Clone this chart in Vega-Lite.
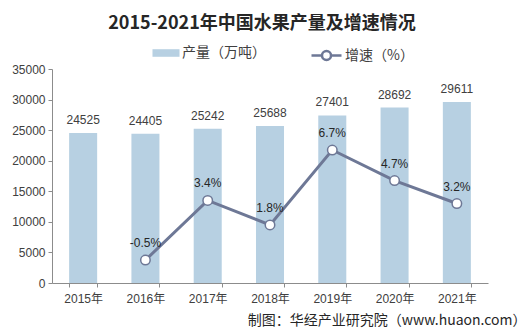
{
  "$schema": "https://vega.github.io/schema/vega-lite/v6.json",
  "width": 436,
  "height": 214,
  "autosize": {"type": "none"},
  "padding": {"left": 52, "top": 69, "right": 44, "bottom": 52},
  "background": "white",
  "title": {
    "text": "2015-2021年中国水果产量及增速情况",
    "font": "Noto Sans CJK SC",
    "fontSize": 18,
    "fontWeight": "bold",
    "color": "#262626",
    "anchor": "middle",
    "dx": -8,
    "offset": 6
  },
  "data": {
    "values": [
      {"year": "2015年", "output": 24525, "growth": null, "s1": "产量（万吨）", "s2": "增速（%）"},
      {"year": "2016年", "output": 24405, "growth": -0.5, "s1": "产量（万吨）", "s2": "增速（%）"},
      {"year": "2017年", "output": 25242, "growth": 3.4, "s1": "产量（万吨）", "s2": "增速（%）"},
      {"year": "2018年", "output": 25688, "growth": 1.8, "s1": "产量（万吨）", "s2": "增速（%）"},
      {"year": "2019年", "output": 27401, "growth": 6.7, "s1": "产量（万吨）", "s2": "增速（%）"},
      {"year": "2020年", "output": 28692, "growth": 4.7, "s1": "产量（万吨）", "s2": "增速（%）"},
      {"year": "2021年", "output": 29611, "growth": 3.2, "s1": "产量（万吨）", "s2": "增速（%）"}
    ]
  },
  "encoding": {
    "x": {
      "field": "year",
      "type": "nominal",
      "sort": null,
      "scale": {"paddingInner": 0.55, "paddingOuter": 0.275},
      "axis": {
        "labelAngle": 0,
        "labelFont": "Liberation Sans, Noto Sans CJK SC",
        "labelFontSize": 12,
        "labelColor": "#404040",
        "labelPadding": 6,
        "domainColor": "#8c8c8c",
        "tickColor": "#8c8c8c",
        "tickSize": 4,
        "tickBand": "extent",
        "title": "制图：华经产业研究院（www.huaon.com）",
        "titleFont": "Noto Sans CJK SC",
        "titleFontSize": 14,
        "titleFontWeight": "normal",
        "titleColor": "#262626",
        "titleAlign": "right",
        "titleAnchor": "end",
        "titleBaseline": "middle",
        "titleX": 474,
        "titleY": 37
      }
    }
  },
  "layer": [
    {
      "mark": {"type": "bar"},
      "encoding": {
        "y": {
          "field": "output",
          "type": "quantitative",
          "scale": {"domain": [0, 35000]},
          "axis": {
            "title": null,
            "values": [0, 5000, 10000, 15000, 20000, 25000, 30000, 35000],
            "format": "d",
            "grid": false,
            "labelFont": "Liberation Sans",
            "labelFontSize": 12,
            "labelColor": "#404040",
            "labelPadding": 3,
            "domainColor": "#8c8c8c",
            "tickColor": "#8c8c8c",
            "tickSize": 4
          }
        },
        "color": {
          "field": "s1",
          "type": "nominal",
          "scale": {"range": ["#b7d0e2"]},
          "legend": {
            "title": null,
            "orient": "none",
            "legendX": 100,
            "legendY": -30,
            "symbolType": "M-1,-0.28H1V0.28H-1Z",
            "symbolSize": 730,
            "symbolStrokeWidth": 0,
            "labelFont": "Noto Sans CJK SC",
            "labelFontSize": 14,
            "labelColor": "#404040",
            "labelOffset": 2
          }
        }
      }
    },
    {
      "mark": {"type": "text", "baseline": "bottom", "dy": -6, "font": "Liberation Sans", "fontSize": 12, "color": "#404040"},
      "encoding": {
        "y": {"field": "output", "type": "quantitative", "scale": {"domain": [0, 35000]}, "axis": null},
        "text": {"field": "output", "type": "quantitative", "format": "d"}
      }
    },
    {
      "layer": [
        {
          "mark": {"type": "line", "strokeWidth": 3},
          "encoding": {
            "y": {
              "field": "growth",
              "type": "quantitative",
              "scale": {"domain": [-2, 12]},
              "axis": {
                "orient": "right",
                "title": null,
                "values": [-2, 0, 2, 4, 6, 8, 10, 12],
                "labelExpr": "datum.value + '%'",
                "grid": false,
                "labelFont": "Liberation Sans",
                "labelFontSize": 12,
                "labelColor": "#404040",
                "labelPadding": 4,
                "domainColor": "#8c8c8c",
                "tickColor": "#8c8c8c",
                "tickSize": 4
              }
            },
            "stroke": {
              "field": "s2",
              "type": "nominal",
              "scale": {"range": ["#6e7896"]},
              "legend": {
                "title": null,
                "orient": "none",
                "legendX": 258,
                "legendY": -30,
                "symbolType": "M-1,0H-0.3M0.3,0H1M-0.3,0A0.3,0.3 0 1,0 0.3,0A0.3,0.3 0 1,0 -0.3,0",
                "symbolSize": 900,
                "symbolStrokeWidth": 2.5,
                "symbolFillColor": "white",
                "labelFont": "Noto Sans CJK SC",
                "labelFontSize": 14,
                "labelColor": "#404040",
                "labelOffset": 2
              }
            }
          }
        },
        {
          "mark": {"type": "point", "filled": true, "fill": "white", "stroke": "#6e7896", "strokeWidth": 1.5, "size": 90, "opacity": 1},
          "encoding": {
            "y": {"field": "growth", "type": "quantitative", "scale": {"domain": [-2, 12]}, "axis": null}
          }
        },
        {
          "transform": [{"filter": "datum.growth != null"}, {"calculate": "datum.growth + '%'", "as": "glabel"}],
          "mark": {"type": "text", "baseline": "bottom", "dy": -10, "font": "Liberation Sans", "fontSize": 12, "color": "#262626"},
          "encoding": {
            "y": {"field": "growth", "type": "quantitative", "scale": {"domain": [-2, 12]}, "axis": null},
            "text": {"field": "glabel", "type": "nominal"}
          }
        }
      ]
    }
  ],
  "resolve": {"scale": {"y": "independent"}},
  "config": {
    "view": {"stroke": null}
  }
}
